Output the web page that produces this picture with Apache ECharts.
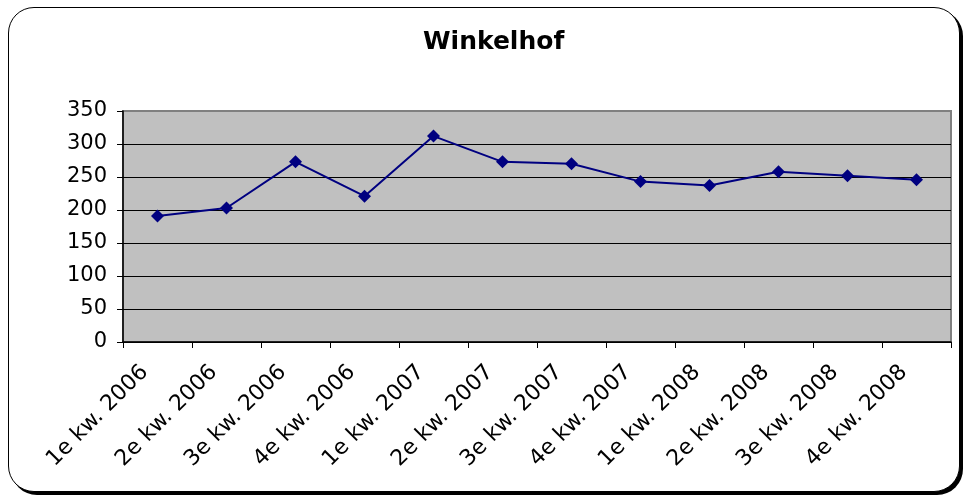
<!DOCTYPE html>
<html>
<head>
<meta charset="utf-8">
<script src="https://cdn.jsdelivr.net/npm/echarts@6/dist/echarts.min.js"></script>
<style>
  html, body { margin: 0; padding: 0; background: #fff; }
  #frame {
    position: absolute; left: 8px; top: 7px; width: 950px; height: 483px;
    border: 1.5px solid #000; border-radius: 26px;
    box-shadow: 3px 3px 0 #000; background: #fff;
  }
  #chart { position: absolute; left: 0; top: 0; width: 965px; height: 498px; }
</style>
</head>
<body>
<div id="frame"></div>
<div id="chart"></div>
<script>
  // quarters on the x axis
  var quarters = ['1e kw. 2006', '2e kw. 2006', '3e kw. 2006', '4e kw. 2006',
                  '1e kw. 2007', '2e kw. 2007', '3e kw. 2007', '4e kw. 2007',
                  '1e kw. 2008', '2e kw. 2008', '3e kw. 2008', '4e kw. 2008'];
  // values
  var winkelhof = [191, 203, 273, 221, 312, 273, 270, 243, 237, 258, 252, 246];
  var yMin = 0, yMax = 350, yStep = 50;

  var chart = echarts.init(document.getElementById('chart'));
  var font = "'DejaVu Sans', sans-serif";

  var option = {
    animation: false,
    title: {
      text: 'Winkelhof',
      left: 418,
      top: 25,
      textStyle: {
        fontFamily: font,
        fontWeight: 'bold',
        fontSize: 25,
        color: '#000'
      }
    },
    grid: {
      left: 123,
      right: 14,
      top: 111,
      bottom: 156,
      show: true,
      backgroundColor: '#C0C0C0',
      borderColor: '#808080',
      borderWidth: 2
    },
    xAxis: {
      type: 'category',
      data: quarters,
      boundaryGap: true,
      axisLine: { lineStyle: { color: '#000', width: 1.5 } },
      axisTick: { show: true, interval: 0, length: 6, lineStyle: { color: '#000' } },
      axisLabel: {
        interval: 0,
        rotate: 45,
        margin: 14,
        padding: [0, 18, 0, 0],
        fontSize: 22,
        fontFamily: font,
        color: '#000'
      },
      splitLine: { show: false }
    },
    yAxis: {
      type: 'value',
      min: yMin,
      max: yMax,
      interval: yStep,
      axisLine: { show: true, lineStyle: { color: '#000', width: 1.5 } },
      axisTick: { show: true, length: 6, lineStyle: { color: '#000' } },
      axisLabel: {
        margin: 16,
        fontSize: 21,
        fontFamily: font,
        color: '#000'
      },
      splitLine: {
        show: true,
        lineStyle: {
          color: ['#000', '#000', '#000', '#000', '#000', '#000', '#000', '#808080'],
          width: 1
        }
      }
    },
    series: [{
      name: 'Winkelhof',
      type: 'line',
      data: winkelhof,
      symbol: 'diamond',
      symbolSize: 13,
      lineStyle: { color: '#000080', width: 2 },
      itemStyle: { color: '#000080' }
    }]
  };

  chart.setOption(option);
</script>
</body>
</html>
